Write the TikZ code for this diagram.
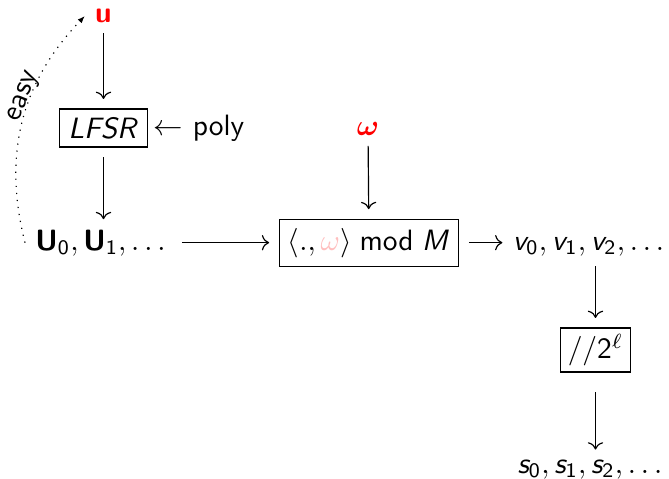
\documentclass[tikz,border=0pt]{standalone}
\usepackage{amsmath,amssymb}
\usepackage{tikz}
\usetikzlibrary{arrows.meta, positioning}
\renewcommand{\familydefault}{\sfdefault}
% sans serif math, as on slides
\DeclareSymbolFont{operators}{OT1}{cmss}{m}{n}
\SetSymbolFont{operators}{bold}{OT1}{cmss}{bx}{n}
\DeclareSymbolFont{sfletters}{OT1}{cmss}{m}{sl}
\DeclareMathAlphabet{\mathbf}{OT1}{cmss}{bx}{n}
\makeatletter
\@tfor\sfl:=abcdefghijklmnopqrstuvwxyzABCDEFGHIJKLMNOPQRSTUVWXYZ\do{%
  \expandafter\DeclareMathSymbol\expandafter{\sfl}{\mathalpha}{sfletters}{\expandafter`\sfl}}
\makeatother
\tikzset{
    box/.style={rectangle, draw, inner sep=3pt, outer sep=3.4pt},
    arrow/.style={->},
    easyarrow/.style={dotted, -{Latex[length=2.5pt]}}
}

\begin{document}
\begin{tikzpicture}[x=0.34pt, y=-0.34pt]
			\useasboundingbox (0,0) rectangle (669,479);
			% Left column
			\node (u) at (103.5,16) {$\color{red}\mathbf{u}$};
			
			\node (lfsr) [box] at (103.5,128) {$LFSR$};
			
			\node (poly) at (199,128) {$\leftarrow$ poly};
			
			\node (U) [anchor=base] at (100.5,250) {$\mathbf{U}_0, \mathbf{U}_1, \ldots$};
			
			% Middle column
			\node (omega) at (368,129) {$\color{red}\boldsymbol{\omega}$};
			
			\node (mod) [box, anchor=base] at (369,250) {$\langle ., \textcolor{red!25}{\omega} \rangle \bmod M$};
			
			% Right column
			\node (v) [anchor=base] at (588.5,250) {$v_0, v_1, v_2, \ldots$};
			
			\node (div) [box, inner xsep=2.4pt, inner ysep=2pt] at (595.5,350) {$//2^\ell$};
			
			\node (s) [anchor=base] at (590,473) {$s_0, s_1, s_2, \ldots$};
			
			% Connections
			\draw [arrow] (u) -- (lfsr);
			\draw [arrow] (lfsr) -- (U.north -| lfsr);
			\draw [easyarrow] (U.west) to[bend left=29] node[pos=0.6, sloped, above=-1.5pt, inner sep=0pt] {easy} (u.west);
			
			\draw [arrow] (omega) -- (mod);
			\draw [arrow, shorten <=2pt] (U.east |- mod) -- (mod);
			\draw [arrow] (mod) -- (mod -| v.west);
			
			\draw [arrow] (v.south -| div) -- (div);
			\draw [arrow, shorten <=3.5pt] (div) -- (s.north -| div);
		\end{tikzpicture}
\end{document}
